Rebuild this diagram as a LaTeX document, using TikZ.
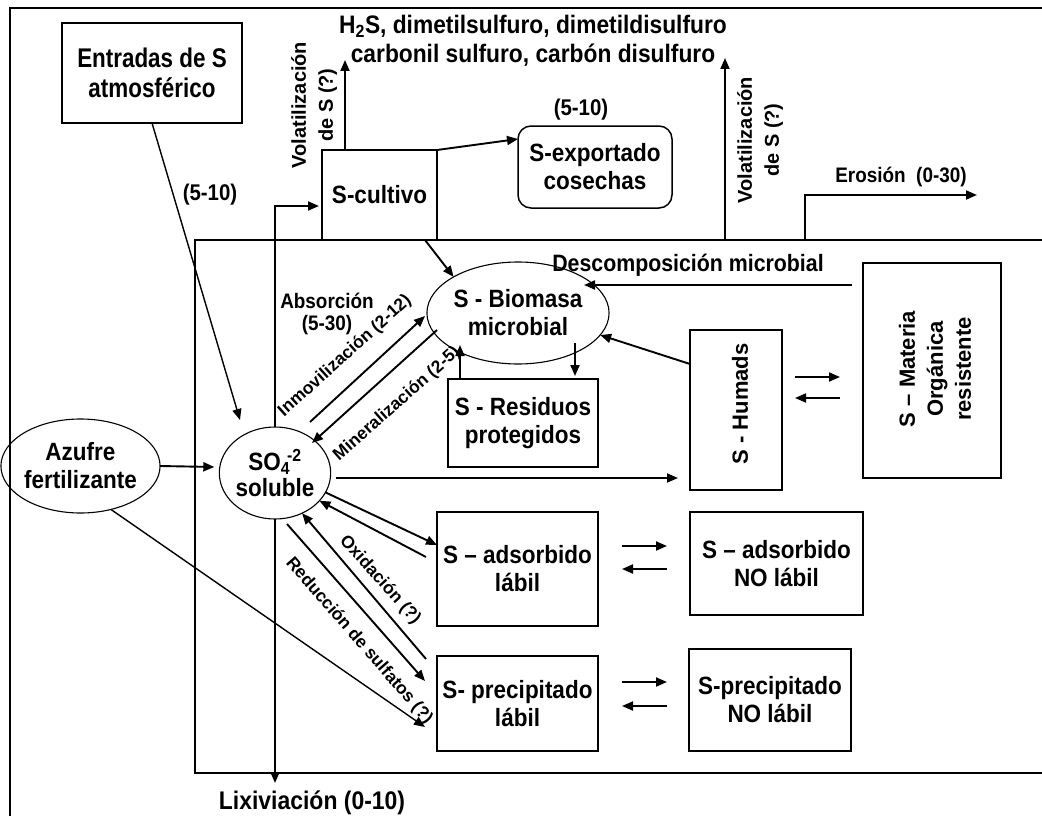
\documentclass[tikz,border=0pt]{standalone}
\usepackage{fontspec}
\setmainfont{Liberation Sans}
\newfontfamily\NarA{Liberation Sans}[FakeStretch=0.9]
\newfontfamily\NarB{Liberation Sans}[FakeStretch=0.83]
\usetikzlibrary{arrows.meta,shapes.geometric,calc}
\newcommand\FMain{\NarA\bfseries\fontsize{25}{28}\selectfont}
\newcommand\FLbl{\NarA\bfseries\fontsize{22.7}{26}\selectfont}
\newcommand\FRot{\bfseries\fontsize{17.5}{21}\selectfont}
\newcommand\FVert{\bfseries\fontsize{20}{27}\selectfont}
\begin{document}
\begin{tikzpicture}[x=1pt,y=-1pt,
  box/.style={draw,line width=1.5pt,inner sep=0pt,outer sep=0pt,align=center,font=\FMain},
  oval/.style={draw,ellipse,line width=1.1pt,inner sep=0pt,outer sep=0pt,align=center,font=\FMain},
  arr/.style={line width=1.9pt,-{Triangle[length=11pt,width=9pt]}},
  lbl/.style={font=\FLbl,align=center,inner sep=0pt},
  rlbl/.style={font=\FRot,align=center,inner sep=0pt},
  vlbl/.style={font=\FVert,align=center,inner sep=0pt,rotate=90},
  txt/.style={font=\FMain,align=center,inner sep=0pt}]
\useasboundingbox (0,0) rectangle (1042,816);
% frames
\draw[line width=2.8pt] (1042,8) -- (10,8) -- (10,816);
\draw[line width=1.9pt] (1042,240) -- (195,240) -- (195,773) -- (1042,773);
% nodes
\node[box,minimum width=180pt,minimum height=100pt,font=\NarB\bfseries\fontsize{27}{30}\selectfont] (entr) at (152,73) {Entradas de S\\atmosférico};
\node[box,minimum width=115pt,minimum height=90pt] (cult) at (379.5,195) {S-cultivo};
\node[box,rounded corners=13pt,minimum width=154pt,minimum height=82pt] (exp) at (595,167) {S-exportado\\cosechas};
\node[oval,minimum width=149pt,minimum height=102pt] (bio) at (518,313) {S - Biomasa\\microbial};
\node[box,minimum width=150pt,minimum height=88pt] (res) at (523,423) {S - Residuos\\protegidos};
\node[box,minimum width=92pt,minimum height=160pt] (hum) at (736,410) {};
\node[vlbl,font=\bfseries\fontsize{22}{28}\selectfont] (humt) at (740,404) {S - Humads};
\node[box,minimum width=138pt,minimum height=215pt] (mat) at (932,370.5) {};
\node[vlbl,font=\bfseries\fontsize{22}{28}\selectfont] (matt) at (935,369) {S – Materia\\Orgánica\\resistente};
\node[oval,minimum width=106pt,minimum height=92pt,font=\NarA\bfseries\fontsize{25}{26}\selectfont] (so4) at (275,473) {SO\textsubscript{4}\kern-0.12em\textsuperscript{-2}\\soluble};
\node[oval,minimum width=137pt,minimum height=94pt] (azu) at (80.5,466) {Azufre\\fertilizante};
\node[box,minimum width=161pt,minimum height=114pt] (adl) at (517.5,569) {S – adsorbido\\lábil};
\node[box,minimum width=173pt,minimum height=103pt] (adn) at (776.5,563.5) {S – adsorbido\\NO lábil};
\node[box,minimum width=161pt,minimum height=95pt] (prl) at (517.5,703.5) {S- precipitado\\lábil};
\node[box,minimum width=162pt,minimum height=102pt] (prn) at (770,700) {S-precipitado\\NO lábil};
% texts
\node[txt,font=\NarA\bfseries\fontsize{25.3}{29}\selectfont] (gas) at (533,41) {H\textsubscript{2}S, dimetilsulfuro, dimetildisulfuro\\carbonil sulfuro, carbón disulfuro};
\node[lbl] (lA) at (210,195) {(5-10)};
\node[lbl] (lB) at (581,110) {(5-10)};
\node[vlbl] (vol1) at (314,105) {Volatilización\\de S (?)};
\node[vlbl] (vol2) at (760,140) {Volatilización\\de S (?)};
\node[lbl,font=\NarA\bfseries\fontsize{21}{24}\selectfont] (ero) at (901,177) {Erosión\ \ (0-30)};
\node[lbl,font=\NarA\bfseries\fontsize{23.7}{26}\selectfont] (desc) at (688,265) {Descomposición microbial};
\node[lbl,font=\NarA\bfseries\fontsize{21}{22}\selectfont] (abs) at (327,314) {Absorción\\(5-30)};
\node[rlbl,rotate=42] (inm) at (345,356) {Inmovilización (2-12)};
\node[rlbl,rotate=41.5] (min) at (397,404) {Mineralización (2-5)};
\node[rlbl,rotate=-48] (oxi) at (380,580) {Oxidación (?)};
\node[rlbl,rotate=-49] (red) at (359,641) {Reducción de sulfatos (?)};
\node[txt,font=\NarA\bfseries\fontsize{25.5}{28}\selectfont] (lix) at (312,803) {Lixiviación (0-10)};
% free ends
\coordinate (v1) at (345,60);
\coordinate (v2a) at (725,239);
\coordinate (v2b) at (725,58);
\coordinate (e1) at (805,239);
\coordinate (e2) at (977,195);
\coordinate (lixend) at (276,783);
% connectors
\draw[arr,line width=1.4pt] (entr.south) -- ($(so4.center)+(-35,-53)$);
\draw[arr] (azu.east) -- ($(so4.west)+(-5,-6)$);
\draw[arr,line width=1.4pt] (azu.-55) -- ($(prl.west)+(-12,23.5)$);
\draw[arr,shorten >=3pt] (so4.north) |- ($(cult.west)+(0,11)$);
\draw[arr] ($(cult.north west)+(23,0)$) -- (v1);
\draw[arr] (cult.north east) -- ($(exp.west)+(0,-28)$);
\draw[arr] ($(cult.south east)+(-12,0)$) -- (bio.north west);
\draw[arr] (v2a) -- (v2b);
\draw[arr] (e1) |- (e2);
\draw[arr] ($(mat.north west)+(-11,22)$) -- ($(bio.center)+(66,-28)$);
\draw[arr] ($(hum.north west)+(0,34)$) -- (bio.-15);
\draw[arr] ($(hum.east)+(13,-33)$) -- ($(mat.west)+(-23,6.5)$);
\draw[arr] ($(mat.west)+(-23,27.5)$) -- ($(hum.east)+(13,-12)$);
\draw[arr] ($(res.north west)+(12,0)$) -- ($(res.north west)+(12,-34)$);
\draw[arr] ($(res.north east)+(-23,-36)$) -- ($(res.north east)+(-23,-3)$);
\draw[arr] ($(so4.center)+(35,-51)$) -- ($(bio.center)+(-93,3)$);
\draw[arr] ($(bio.center)+(-81,17)$) -- ($(so4.center)+(37,-30)$);
\draw[arr] ($(so4.east)+(5,5)$) -- ($(hum.south west)+(-12,-12)$);
\draw[arr] (so4.-21) -- ($(adl.west)+(0,-24)$);
\draw[arr] ($(adl.west)+(-11,-12)$) -- (so4.-32);
\draw[arr] ($(prl.north west)+(-11,3)$) -- (so4.-56);
\draw[arr] ($(so4.south)+(12,5)$) -- ($(prl.west)+(-12,-22.5)$);
\draw[arr] ($(adl.east)+(24,-23)$) -- ($(adn.west)+(-23,-17.5)$);
\draw[arr] ($(adn.west)+(-23,5.5)$) -- ($(adl.east)+(24,0)$);
\draw[arr] ($(prl.east)+(24,-21.5)$) -- ($(prn.west)+(-22,-18)$);
\draw[arr] ($(prn.west)+(-22,6)$) -- ($(prl.east)+(24,2.5)$);
\draw[arr] (so4.south) -- (so4.south |- lixend);
\end{tikzpicture}
\end{document}
